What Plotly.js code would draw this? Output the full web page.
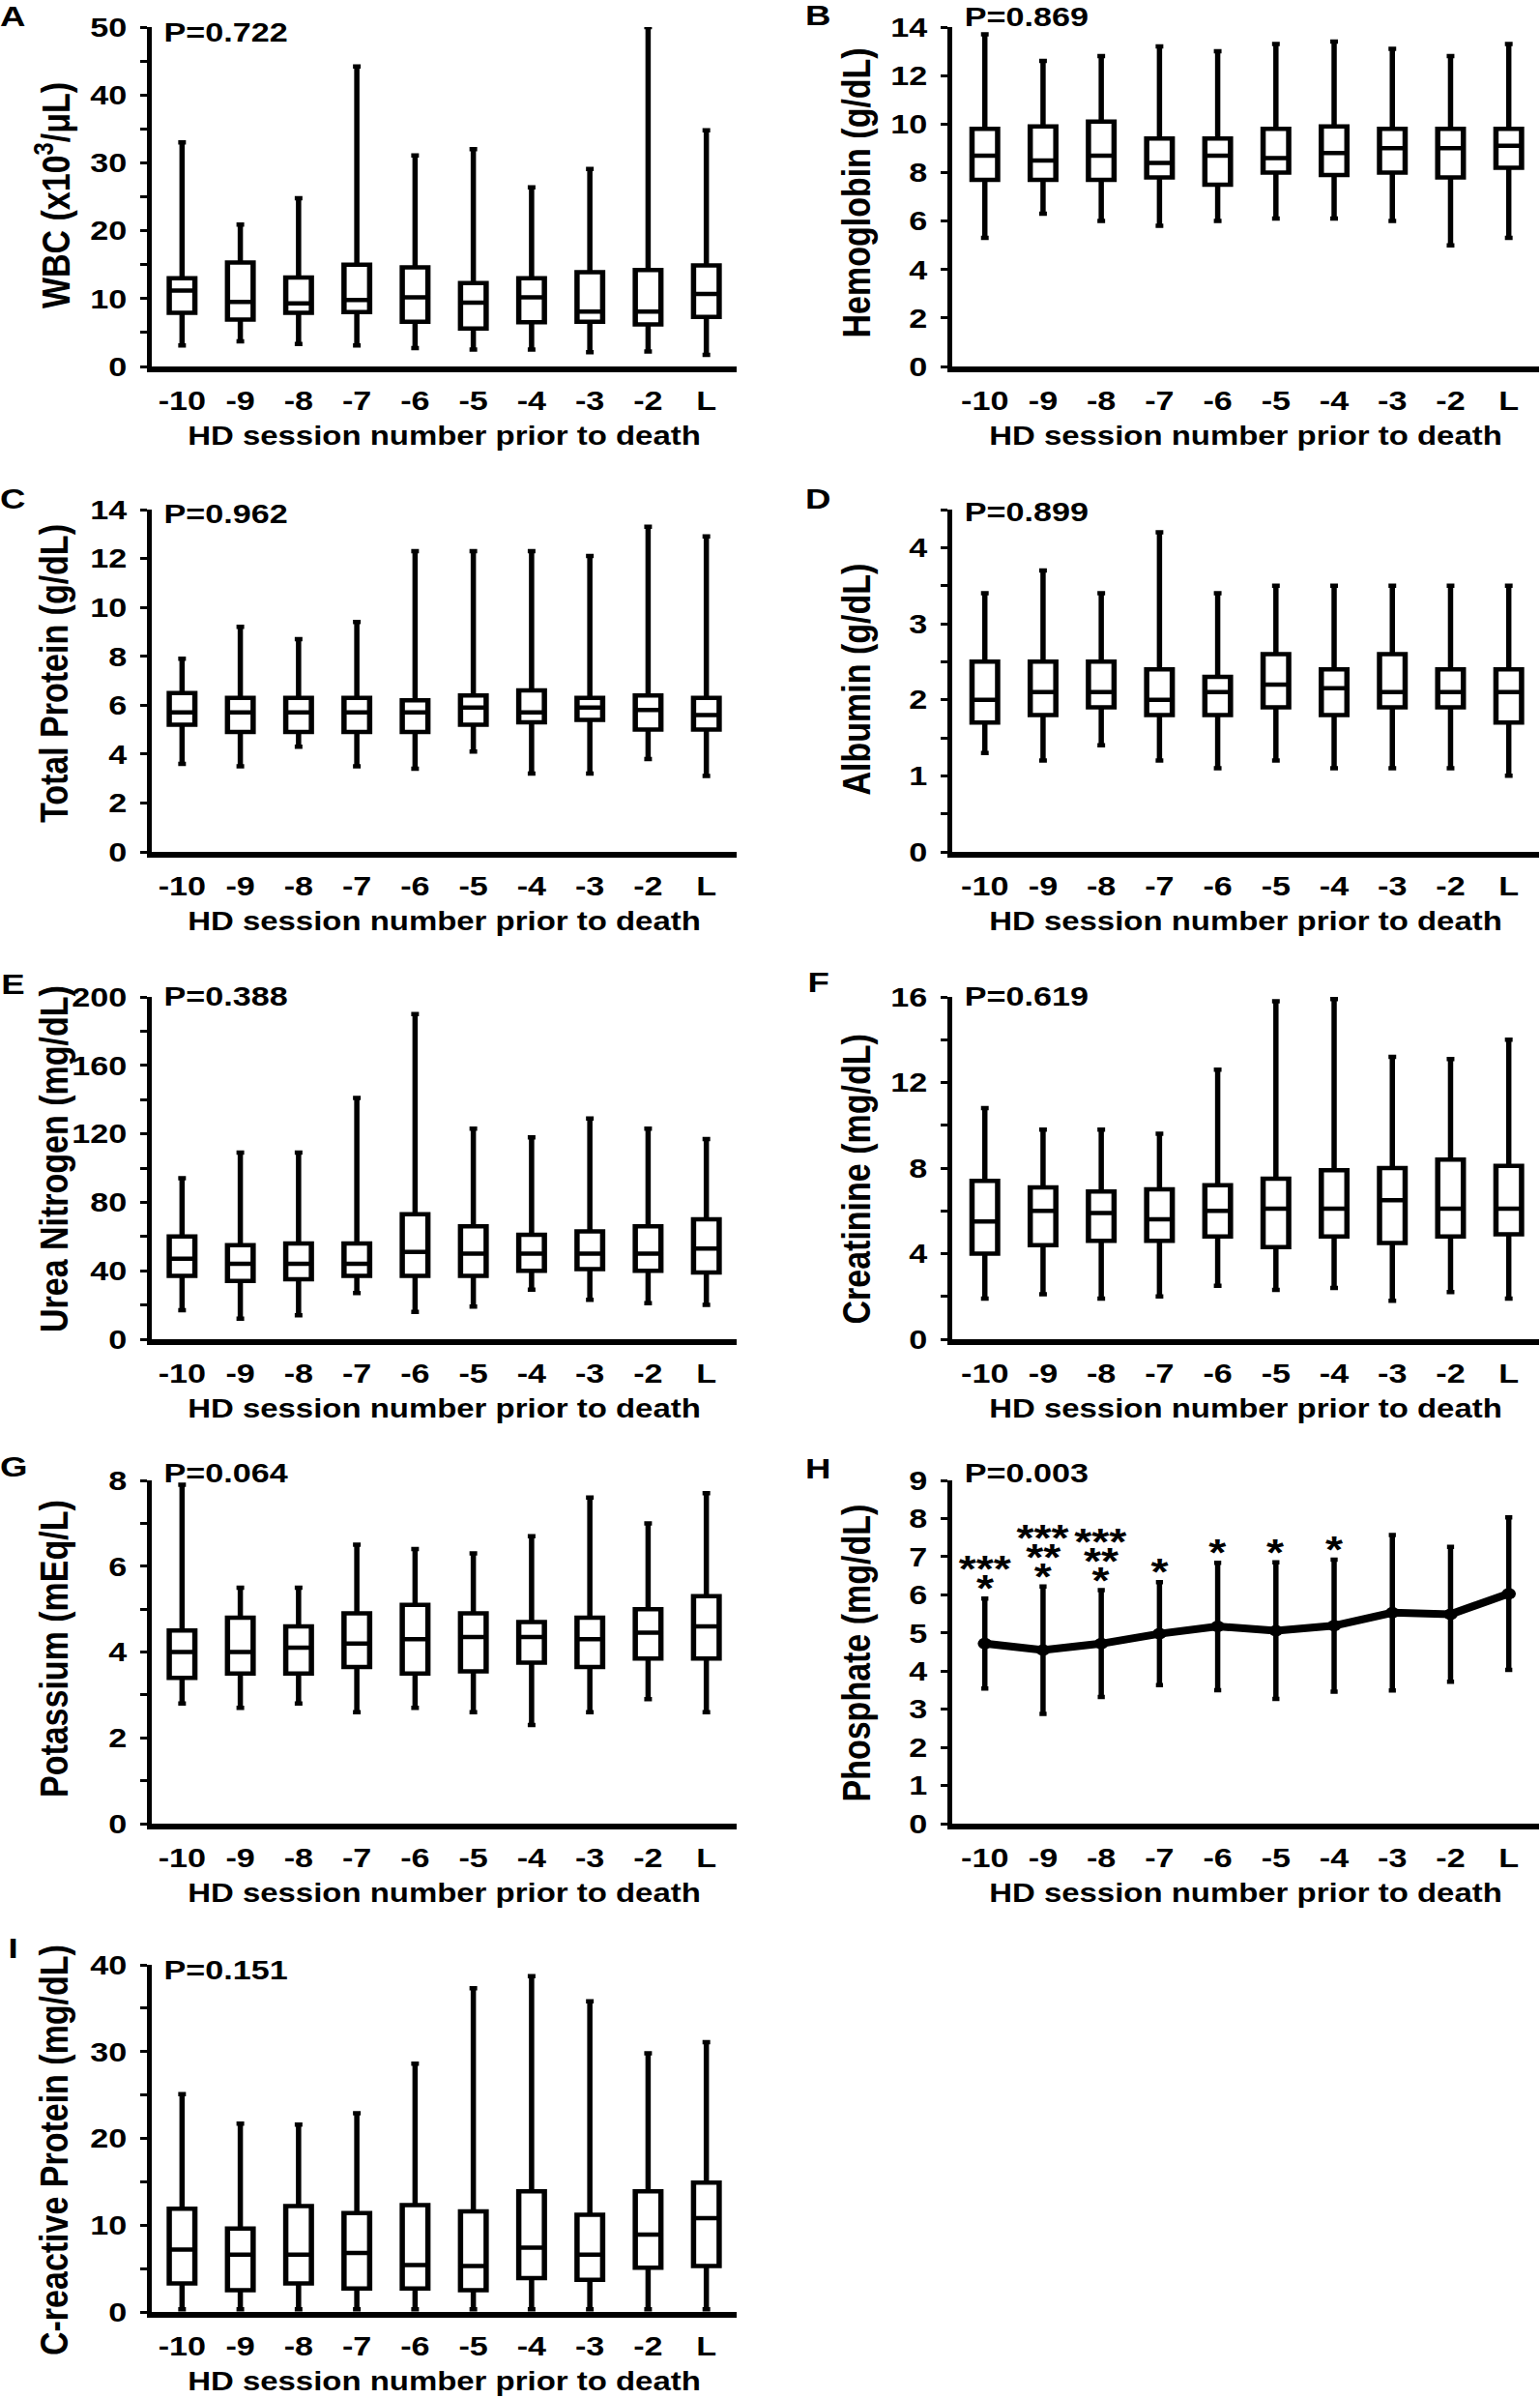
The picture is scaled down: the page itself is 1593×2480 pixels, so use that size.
<!DOCTYPE html>
<html><head><meta charset="utf-8">
<script src="https://cdn.plot.ly/plotly-3.0.1.min.js"></script>
<style>
html,body{margin:0;padding:0;background:#fff;overflow:hidden}
#wrap{width:1593px;height:2480px;overflow:hidden}
#chart{width:1306px;height:2480px;transform:scaleX(1.2198);transform-origin:0 0}
</style>
</head><body><div id="wrap"><div id="chart"></div></div>
<script>
// ---------- data ----------
const categories = ["-10","-9","-8","-7","-6","-5","-4","-3","-2","L"];

const wbcUpper  = [33.0, 20.9, 24.8, 44.2, 31.1, 32.0, 26.4, 29.1, 50.0, 34.8];
const wbcQ3     = [13.0, 15.3, 13.1, 15.0, 14.6, 12.3, 13.0, 13.9, 14.2, 14.9];
const wbcMedian = [11.2, 9.5, 9.3, 9.8, 10.2, 9.4, 10.2, 8.1, 8.1, 10.7];
const wbcQ1     = [7.9, 6.9, 7.9, 8.0, 6.6, 5.6, 6.5, 6.6, 6.2, 7.3];
const wbcLower  = [3.1, 3.7, 3.3, 3.1, 2.7, 2.5, 2.5, 2.1, 2.2, 1.7];

const hgbUpper  = [13.7, 12.6, 12.8, 13.2, 13.0, 13.3, 13.4, 13.1, 12.8, 13.3];
const hgbQ3     = [9.8, 9.9, 10.1, 9.4, 9.4, 9.8, 9.9, 9.8, 9.8, 9.8];
const hgbMedian = [8.7, 8.5, 8.7, 8.4, 8.7, 8.6, 8.8, 9.0, 9.0, 9.1];
const hgbQ1     = [7.7, 7.7, 7.7, 7.8, 7.5, 8.0, 7.9, 8.0, 7.8, 8.2];
const hgbLower  = [5.3, 6.3, 6.0, 5.8, 6.0, 6.1, 6.1, 6.0, 5.0, 5.3];

const tpUpper  = [7.9, 9.2, 8.7, 9.4, 12.3, 12.3, 12.3, 12.1, 13.3, 12.9];
const tpQ3     = [6.5, 6.3, 6.3, 6.3, 6.2, 6.4, 6.6, 6.3, 6.4, 6.3];
const tpMedian = [5.7, 5.7, 5.7, 5.7, 5.7, 5.9, 5.7, 5.9, 5.8, 5.6];
const tpQ1     = [5.2, 4.9, 4.9, 4.9, 4.9, 5.2, 5.3, 5.4, 5.0, 5.0];
const tpLower  = [3.6, 3.5, 4.3, 3.5, 3.4, 4.1, 3.2, 3.2, 3.8, 3.1];

const albUpper  = [3.4, 3.7, 3.4, 4.2, 3.4, 3.5, 3.5, 3.5, 3.5, 3.5];
const albQ3     = [2.5, 2.5, 2.5, 2.4, 2.3, 2.6, 2.4, 2.6, 2.4, 2.4];
const albMedian = [2.0, 2.1, 2.1, 2.0, 2.1, 2.2, 2.15, 2.1, 2.1, 2.1];
const albQ1     = [1.7, 1.8, 1.9, 1.8, 1.8, 1.9, 1.8, 1.9, 1.9, 1.7];
const albLower  = [1.3, 1.2, 1.4, 1.2, 1.1, 1.2, 1.1, 1.1, 1.1, 1.0];

const bunUpper  = [94, 109, 109, 141, 190, 123, 118, 129, 123, 117];
const bunQ3     = [60, 55, 56, 56, 73, 66, 61, 63, 66, 70];
const bunMedian = [47, 44, 44, 44, 51, 50, 50, 50, 50, 53];
const bunQ1     = [37, 34, 35, 37, 37, 37, 40, 41, 40, 39];
const bunLower  = [17, 12, 14, 27, 16, 19, 29, 23, 21, 20];

const creUpper  = [10.8, 9.8, 9.8, 9.6, 12.6, 15.8, 15.9, 13.2, 13.1, 14.0];
const creQ3     = [7.4, 7.1, 6.9, 7.0, 7.2, 7.5, 7.9, 8.0, 8.4, 8.1];
const creMedian = [5.5, 6.0, 5.9, 5.6, 6.0, 6.1, 6.1, 6.5, 6.1, 6.1];
const creQ1     = [4.0, 4.4, 4.6, 4.6, 4.8, 4.3, 4.8, 4.5, 4.8, 4.9];
const creLower  = [1.9, 2.1, 1.9, 2.0, 2.5, 2.3, 2.4, 1.8, 2.2, 1.9];

const kUpper  = [7.9, 5.5, 5.5, 6.5, 6.4, 6.3, 6.7, 7.6, 7.0, 7.7];
const kQ3     = [4.5, 4.8, 4.6, 4.9, 5.1, 4.9, 4.7, 4.8, 5.0, 5.3];
const kMedian = [4.0, 4.0, 4.1, 4.2, 4.3, 4.35, 4.35, 4.3, 4.45, 4.6];
const kQ1     = [3.4, 3.5, 3.5, 3.65, 3.5, 3.55, 3.75, 3.65, 3.85, 3.85];
const kLower  = [2.8, 2.7, 2.8, 2.6, 2.7, 2.6, 2.3, 2.6, 2.9, 2.6];

const phosMean = [4.72, 4.55, 4.72, 4.98, 5.17, 5.06, 5.19, 5.53, 5.49, 6.03];
const phosSD   = [1.18, 1.67, 1.40, 1.35, 1.67, 1.79, 1.73, 2.04, 1.77, 2.00];
// significance marks per category, listed from bottom line to top line
const phosStars = [["*","***"], ["*","**","***"], ["*","**","***"], ["*"], ["*"], ["*"], ["*"], [], [], []];

const crpUpper  = [25.1, 21.7, 21.6, 22.9, 28.6, 37.3, 38.7, 35.8, 29.8, 31.1];
const crpQ3     = [11.9, 9.6, 12.2, 11.4, 12.3, 11.6, 13.9, 11.2, 13.9, 14.9];
const crpMedian = [7.2, 6.6, 6.6, 6.8, 5.4, 5.3, 7.4, 6.6, 8.9, 10.8];
const crpQ1     = [3.3, 2.5, 3.3, 2.7, 2.7, 2.5, 3.9, 3.7, 5.1, 5.3];
const crpLower  = [0.3, 0.3, 0.3, 0.3, 0.3, 0.3, 0.3, 0.3, 0.3, 0.3];

const panelLetters = ["A","B","C","D","E","F","G","H","I"];
const yTitles = ["WBC (x10<sup>3</sup>/μL)", "Hemoglobin (g/dL)", "Total Protein (g/dL)", "Albumin (g/dL)",
  "Urea Nitrogen (mg/dL)", "Creatinine (mg/dL)", "Potassium (mEq/L)", "Phosphate (mg/dL)", "C-reactive Protein (mg/dL)"];
const pValues = ["P=0.722","P=0.869","P=0.962","P=0.899","P=0.388","P=0.619","P=0.064","P=0.003","P=0.151"];
const xTitle = "HD session number prior to death";

// ---------- layout geometry ----------
// the figure is drawn 1306 px wide and stretched horizontally to 1593 px (like the reference)
const S = 1.2198;
const W = 1306, H = 2480;
const px = v => v / S;            // full-width pixel -> inner pixel
const FONT = "Liberation Sans, Arial, sans-serif";
const cols = [{x0:157, x1:762, r0:-0.52, titleX:55, pX:168, letterX:14},
              {x0:985, x1:1592, r0:-0.56, titleX:885, pX:997, letterX:847}];
const rows = [{y0:28, y1:379}, {y0:527, y1:881}, {y0:1031, y1:1385}, {y0:1531, y1:1886}, {y0:2032, y1:2391}];

const boxSets = [
  [wbcUpper, wbcQ3, wbcMedian, wbcQ1, wbcLower],
  [hgbUpper, hgbQ3, hgbMedian, hgbQ1, hgbLower],
  [tpUpper, tpQ3, tpMedian, tpQ1, tpLower],
  [albUpper, albQ3, albMedian, albQ1, albLower],
  [bunUpper, bunQ3, bunMedian, bunQ1, bunLower],
  [creUpper, creQ3, creMedian, creQ1, creLower],
  [kUpper, kQ3, kMedian, kQ1, kLower],
  null,
  [crpUpper, crpQ3, crpMedian, crpQ1, crpLower]
];
const yAxisCfg = [
  {max:50, dtick:10, minor:5}, {max:14, dtick:2}, {max:14, dtick:2}, {max:4.5, dtick:1, minor:0.5},
  {max:200, dtick:40, minor:20}, {max:16, dtick:4, minor:2}, {max:8, dtick:2, minor:1},
  {max:9, dtick:1}, {max:40, dtick:10, minor:5}
];
const pYpx = [33, 18, 531, 529, 1030, 1030, 1523, 1523, 2037];
const letterYpx = [16, 15, 515, 515, 1018, 1015, 1516, 1518, 2014];
const yTitleYpx = [202, 200, 697, 703, 1199, 1220, 1705, 1710, 2224];

const tickFont = {family: FONT, size: 28, color: "#000", weight: "bold"};
const xTitleFont = {family: FONT, size: 27, color: "#000", weight: "bold"};
const yTitleFont = {family: FONT, size: 34, color: "#000", weight: "bold"};
const letterFont = {family: FONT, size: 30, color: "#000", weight: "bold"};
const starFont = {family: FONT, size: 38, color: "#000", weight: "bold"};

const data = [];
const layout = {
  width: W, height: H, margin: {l:0, r:0, t:0, b:0},
  paper_bgcolor: "#fff", plot_bgcolor: "#fff", showlegend: false,
  font: {family: FONT, color: "#000"}, annotations: []
};

for (let i = 0; i < 9; i++) {
  const c = cols[i % 2], r = rows[Math.floor(i / 2)];
  const sfx = i === 0 ? "" : String(i + 1);
  const xa = "x" + sfx, ya = "y" + sfx;
  const cfg = yAxisCfg[i];

  layout["xaxis" + sfx] = {
    domain: [px(c.x0) / W, px(c.x1) / W], anchor: ya, type: "category", categoryorder: "array", categoryarray: categories,
    range: [c.r0, 9.52], showline: true, linecolor: "#000", linewidth: 5.5, ticks: "",
    showgrid: false, zeroline: false, tickfont: tickFont, ticklabelstandoff: 6, automargin: false,
    title: {text: xTitle, font: xTitleFont, standoff: 14}, fixedrange: true
  };
  const yax = {
    domain: [1 - r.y1 / H, 1 - r.y0 / H], anchor: xa, range: [0, cfg.max], tick0: 0, dtick: cfg.dtick,
    ticks: "outside", ticklen: 5, tickwidth: 3, tickcolor: "#000",
    showline: true, linecolor: "#000", linewidth: 4.5, showgrid: false, zeroline: false,
    tickfont: tickFont, ticklabelstandoff: 6, automargin: false, fixedrange: true
  };
  if (cfg.minor) yax.minor = {dtick: cfg.minor, tick0: 0, ticks: "outside", ticklen: 5, tickwidth: 3, tickcolor: "#000", showgrid: false};
  layout["yaxis" + sfx] = yax;

  const bs = boxSets[i];
  if (bs) {
    data.push({
      type: "box", x: categories, upperfence: bs[0], q3: bs[1], median: bs[2], q1: bs[3], lowerfence: bs[4],
      xaxis: xa, yaxis: ya, boxpoints: false, width: 0.44, whiskerwidth: 0.3,
      fillcolor: "#fff", line: {color: "#000", width: 4.5}, hoverinfo: "skip"
    });
  } else {
    data.push({
      type: "scatter", mode: "lines+markers", x: categories, y: phosMean, xaxis: xa, yaxis: ya,
      line: {color: "#000", width: 8}, marker: {color: "#000", size: 12},
      error_y: {type: "data", array: phosSD, visible: true, color: "#000", thickness: 4.5, width: 3},
      hoverinfo: "skip"
    });
    phosStars.forEach((lines, k) => {
      lines.forEach((s, j) => {
        layout.annotations.push({
          xref: xa, yref: ya, x: k, y: phosMean[k] + phosSD[k], text: s, showarrow: false,
          xanchor: "center", yanchor: "middle", yshift: 10 + 20 * j, font: starFont
        });
      });
    });
  }

  // panel letter
  layout.annotations.push({xref: "paper", yref: "paper", x: px(c.letterX) / W, y: 1 - letterYpx[i] / H,
    text: panelLetters[i], showarrow: false, xanchor: "center", yanchor: "middle", borderpad: 0, font: letterFont});
  // P value
  layout.annotations.push({xref: "paper", yref: "paper", x: px(c.pX) / W, y: 1 - pYpx[i] / H,
    text: pValues[i], showarrow: false, xanchor: "left", yanchor: "middle", borderpad: 0, font: tickFont});
  // y title
  layout.annotations.push({xref: "paper", yref: "paper", x: px(c.titleX) / W, y: 1 - yTitleYpx[i] / H,
    text: yTitles[i], showarrow: false, textangle: -90, xanchor: "center", yanchor: "middle", font: yTitleFont});
}

Plotly.newPlot("chart", data, layout, {staticPlot: true, displayModeBar: false});
</script>
</body></html>
